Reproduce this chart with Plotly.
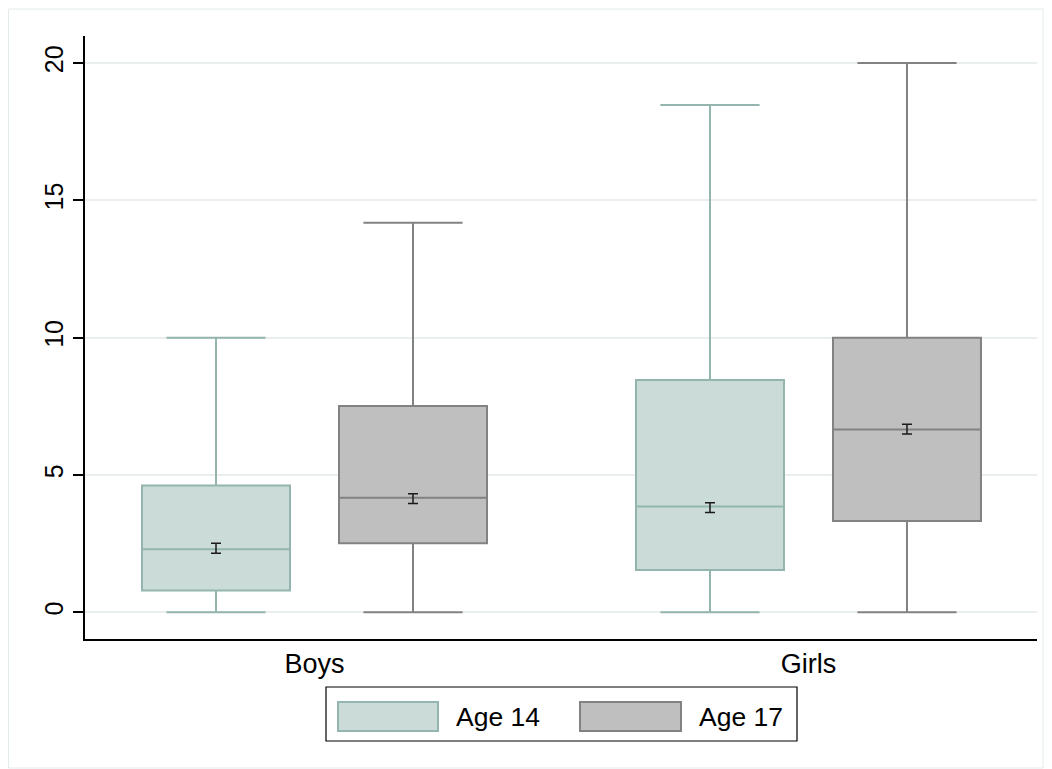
import plotly.graph_objects as go

# ---- data ----
groups = ["Boys", "Girls"]
ages = ["Age 14", "Age 17"]
q1 = {"Age 14": [0.79, 1.54], "Age 17": [2.51, 3.32]}
median = {"Age 14": [2.30, 3.85], "Age 17": [4.17, 6.66]}
q3 = {"Age 14": [4.62, 8.46], "Age 17": [7.51, 10.0]}
lower = {"Age 14": [0.0, 0.0], "Age 17": [0.0, 0.0]}
upper = {"Age 14": [10.0, 18.47], "Age 17": [14.18, 20.0]}
mean = {"Age 14": [2.33, 3.81], "Age 17": [4.14, 6.67]}
ci = {"Age 14": [0.18, 0.18], "Age 17": [0.18, 0.18]}
y_ticks = [0, 5, 10, 15, 20]

# ---- style ----
fills = {"Age 14": "#cbdcd8", "Age 17": "#bfbfbf"}
lines = {"Age 14": "#93b5ad", "Age 17": "#828282"}
offsets = {"Age 14": -0.1994, "Age 17": 0.1994}
FONT = "Liberation Sans, Arial, Helvetica, sans-serif"

OFF = 8  # page body margin
W, H = 1036, 761
# plot area in page pixels
L, R, T, B = 85, 1037, 36, 639

def px(x):
    return (x - L) / (R - L)

def py(y):
    return (B - y) / (B - T)

fig = go.Figure()
gidx = list(range(len(groups)))
for a in ages:
    xs = [g + offsets[a] for g in gidx]
    fig.add_trace(go.Box(
        x=xs, q1=q1[a], median=median[a], q3=q3[a],
        lowerfence=lower[a], upperfence=upper[a],
        width=0.2996, whiskerwidth=0.67,
        fillcolor=fills[a], line=dict(color=lines[a], width=2),
        boxpoints=False, name=a, showlegend=False, hoverinfo="skip",
    ))
for a in ages:
    xs = [g + offsets[a] for g in gidx]
    fig.add_trace(go.Scatter(
        x=xs, y=mean[a], mode="markers",
        marker=dict(size=1, color="rgba(0,0,0,0)"),
        error_y=dict(type="data", array=ci[a], visible=True,
                     color="#1a1a1a", thickness=1.5, width=5),
        showlegend=False, hoverinfo="skip",
    ))

shapes = [
    dict(type="rect", xref="paper", yref="paper",
         x0=px(8.5), x1=px(1043), y0=py(768), y1=py(9),
         line=dict(color="#e4ebeb", width=1), fillcolor="rgba(0,0,0,0)", layer="below"),
    dict(type="rect", xref="paper", yref="paper",
         x0=px(326), x1=px(797), y0=py(741), y1=py(687),
         line=dict(color="#000000", width=1.2), fillcolor="white"),
]
annotations = []
sw = [(338, 438, 454), (580, 681, 697)]
for a, (s0, s1, tx) in zip(ages, sw):
    shapes.append(dict(type="rect", xref="paper", yref="paper",
                       x0=px(s0), x1=px(s1), y0=py(731), y1=py(702),
                       line=dict(color=lines[a], width=2), fillcolor=fills[a]))
    annotations.append(dict(text=a, xref="paper", yref="paper", x=px(tx), y=py(717),
                            xanchor="left", yanchor="middle", showarrow=False,
                            font=dict(family=FONT, size=26.5, color="black")))

fig.update_layout(
    width=W, height=H,
    margin=dict(l=L - OFF, r=W - (R - OFF), t=T - OFF, b=H - (B - OFF)),
    paper_bgcolor="white", plot_bgcolor="white",
    font=dict(family=FONT, size=25, color="black"),
    shapes=shapes, annotations=annotations,
    showlegend=False,
    xaxis=dict(range=[-0.4646, 1.4626], tickmode="array", tickvals=gidx, ticktext=groups,
               showgrid=False, zeroline=False, showline=True, linecolor="black", linewidth=1.5,
               ticks="", tickfont=dict(size=27), ticklabelstandoff=0),
    yaxis=dict(range=[-0.972, 20.983], tickmode="array", tickvals=y_ticks,
               ticktext=[str(v) for v in y_ticks], tickangle=-90,
               showgrid=True, gridcolor="#e9efef", gridwidth=1.5, zeroline=False,
               showline=True, linecolor="black", linewidth=1.5,
               ticks="outside", ticklen=10, tickwidth=1.5, tickcolor="black",
               tickfont=dict(size=25)),
)

fig.write_html("out.html")
